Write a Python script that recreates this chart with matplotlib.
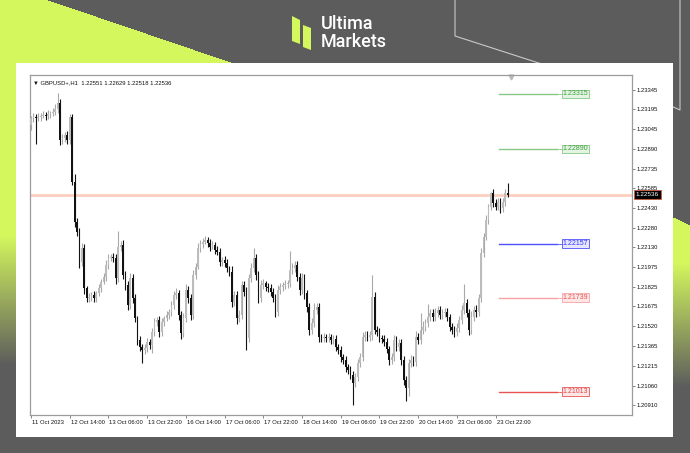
import numpy as np
import matplotlib
matplotlib.use('Agg')
import matplotlib.pyplot as plt
from matplotlib.patches import Rectangle, Polygon
import matplotlib.transforms as mtransforms

plt.rcParams['font.family'] = ['Liberation Sans', 'DejaVu Sans']

# GBPUSD+ H1 closes, first bar 11 Oct 22:00 (open of each bar = previous close)
first_open = 1.23075
closes = [
    1.23126, 1.23139, 1.23126, 1.23139, 1.23147, 1.23152, 1.23144, 1.23157, 1.23165, 1.23178,
    1.23198, 1.23242, 1.22959, 1.22972, 1.22997, 1.22959, 1.23139, 1.22637, 1.22327, 1.22250,
    1.22018, 1.22121, 1.21812, 1.21735, 1.21748, 1.21761, 1.21735, 1.21773, 1.21812, 1.21864,
    1.21902, 1.21992, 1.22044, 1.22057, 1.22044, 1.21889, 1.22134, 1.22147, 1.21915, 1.21838,
    1.21683, 1.21889, 1.21735, 1.21580, 1.21413, 1.21361, 1.21335, 1.21348, 1.21400, 1.21374,
    1.21477, 1.21554, 1.21567, 1.21477, 1.21554, 1.21580, 1.21606, 1.21632, 1.21683, 1.21761,
    1.21773, 1.21606, 1.21464, 1.21580, 1.21799, 1.21735, 1.21606, 1.21915, 1.21980, 1.22121,
    1.22152, 1.22173, 1.22186, 1.22160, 1.22134, 1.22147, 1.22108, 1.22096, 1.22018, 1.22031,
    1.22005, 1.21967, 1.21941, 1.21709, 1.21761, 1.21580, 1.21606, 1.21838, 1.21786, 1.21426,
    1.21889, 1.21967, 1.22044, 1.21915, 1.21735, 1.21838, 1.21851, 1.21825, 1.21812, 1.21786,
    1.21735, 1.21632, 1.21799, 1.21825, 1.21838, 1.21845, 1.21850, 1.21954, 1.21966, 1.21992,
    1.21902, 1.21799, 1.21889, 1.21773, 1.21670, 1.21490, 1.21541, 1.21645, 1.21670, 1.21438,
    1.21425, 1.21438, 1.21425, 1.21438, 1.21412, 1.21418, 1.21361, 1.21335, 1.21283, 1.21258,
    1.21206, 1.21180, 1.21142, 1.21077, 1.21129, 1.21232, 1.21283, 1.21438, 1.21451, 1.21438,
    1.21451, 1.21747, 1.21490, 1.21477, 1.21430, 1.21420, 1.21400, 1.21340, 1.21260, 1.21284,
    1.21413, 1.21361, 1.21390, 1.21258, 1.21103, 1.21039, 1.21232, 1.21258, 1.21245, 1.21439,
    1.21413, 1.21490, 1.21516, 1.21542, 1.21593, 1.21619, 1.21593, 1.21619, 1.21645, 1.21606,
    1.21619, 1.21632, 1.21593, 1.21516, 1.21490, 1.21477, 1.21503, 1.21567, 1.21645, 1.21696,
    1.21619, 1.21490, 1.21593, 1.21645, 1.21632, 1.21735, 1.22083, 1.22212, 1.22340, 1.22444,
    1.22547, 1.22469, 1.22444, 1.22482, 1.22431, 1.22482, 1.22551, 1.22536,
]

# wick lengths beyond the body, in pips
upper_wick_pips = [
    2, 3, 2, 3, 2, 3, 2, 3, 2, 3, 4, 8, 3, 3, 2, 3, 2, 2, 6, 3,
    3, 4, 3, 2, 3, 2, 3, 2, 3, 2, 3, 4, 3, 2, 3, 3, 12, 3, 4, 3,
    3, 4, 3, 3, 2, 3, 2, 3, 3, 2, 3, 3, 2, 3, 3, 2, 3, 2, 3, 3,
    4, 3, 3, 4, 5, 3, 3, 4, 3, 4, 3, 3, 3, 2, 3, 3, 2, 3, 3, 2,
    3, 3, 2, 4, 3, 3, 4, 3, 3, 4, 3, 4, 8, 3, 3, 4, 3, 2, 3, 3,
    3, 3, 4, 3, 2, 3, 3, 15, 4, 3, 3, 3, 4, 3, 3, 3, 4, 5, 3, 3,
    2, 3, 2, 3, 2, 3, 3, 2, 3, 2, 3, 2, 3, 3, 3, 3, 3, 4, 3, 3,
    3, 17, 4, 3, 3, 2, 3, 3, 3, 3, 4, 3, 3, 3, 3, 3, 3, 4, 3, 4,
    3, 13, 4, 3, 10, 3, 3, 4, 3, 3, 3, 3, 3, 2, 3, 3, 4, 3, 4, 15,
    3, 3, 4, 3, 4, 3, 4, 3, 4, 2, 1, 3, 3, 3, 3, 3, 3, 7.8,
]
lower_wick_pips = [
    4, 3, 20, 2, 3, 2, 3, 2, 3, 2, 3, 3, 4, 3, 3, 3, 3, 3, 4, 3,
    5, 3, 4, 3, 3, 3, 3, 3, 2, 3, 2, 3, 3, 2, 3, 4, 3, 3, 3, 4,
    4, 3, 4, 3, 4, 3, 10, 3, 3, 3, 6, 3, 3, 4, 3, 3, 2, 3, 3, 3,
    3, 4, 4, 3, 3, 4, 4, 3, 3, 2, 3, 3, 2, 3, 3, 2, 3, 3, 3, 3,
    3, 3, 3, 4, 3, 4, 3, 3, 3, 9, 3, 3, 3, 4, 4, 3, 3, 3, 3, 3,
    3, 4, 3, 3, 3, 3, 3, 3, 3, 3, 3, 4, 3, 4, 4, 4, 3, 3, 3, 4,
    3, 3, 3, 3, 3, 3, 3, 3, 4, 3, 4, 3, 3, 17, 3, 3, 3, 3, 3, 3,
    3, 4, 3, 3, 3, 3, 3, 3, 4, 3, 3, 3, 3, 4, 4, 10, 6, 3, 3, 3,
    3, 3, 3, 3, 3, 3, 3, 3, 3, 3, 3, 3, 3, 3, 3, 4, 3, 3, 3, 3,
    3, 4, 3, 3, 4, 3, 3, 3, 3, 3, 3, 3, 3, 3, 4, 3, 3, 1.8,
]

xtick_labels = ['11 Oct 2023', '12 Oct 14:00', '13 Oct 06:00', '13 Oct 22:00', '16 Oct 14:00',
                '17 Oct 06:00', '17 Oct 22:00', '18 Oct 14:00', '19 Oct 06:00', '19 Oct 22:00',
                '20 Oct 14:00', '23 Oct 06:00', '23 Oct 22:00']
xtick_bars = [0, 16, 32, 48, 64, 80, 96, 112, 128, 144, 160, 176, 192]
ytick_vals = [1.23345, 1.23195, 1.23045, 1.22890, 1.22735, 1.22585, 1.22430, 1.22280, 1.22130,
              1.21975, 1.21825, 1.21675, 1.21520, 1.21365, 1.21215, 1.21060, 1.20910]

levels = [1.23315, 1.22890, 1.22157, 1.21739, 1.21013]
level_line_colors = ['#86c986', '#86c986', '#4f4fff', '#f6a3a3', '#e85454']
level_text_colors = ['#3f9f3f', '#3f9f3f', '#3434ff', '#e25555', '#e04848']
level_face_colors = ['#e3f4e3', '#e3f4e3', '#e6e6ff', '#fde6e6', '#fde6e6']
current_price = 1.22536
header = '\u25bc GBPUSD+,H1  1.22551 1.22629 1.22518 1.22536'

W, H = 690, 453
fig = plt.figure(figsize=(W / 100, H / 100), dpi=100)

# ---- background (gray with lime corners) ----
bg = fig.add_axes([0, 0, 1, 1])
yy, xx = np.mgrid[0:H, 0:W]
gray = np.array([92, 92, 92]) / 255
lime = np.array([212, 247, 94]) / 255
img = np.ones((H, W, 3)) * gray
t_left = np.clip((yy - 235) / 130.0, 0, 1)[..., None]
left_col = lime * (1 - t_left) + gray * t_left
left_mask = (xx < 48 + 2.94 * yy) & (xx < 300)
img[left_mask] = left_col[left_mask]
t_right = np.clip((yy - 262) / 125.0, 0, 1)[..., None]
right_col = lime * (1 - t_right) + gray * t_right
right_mask = (yy > 217 + 0.47 * (xx - 673)) & (xx > 400)
img[right_mask] = right_col[right_mask]
bg.imshow(img, extent=[0, W, H, 0], aspect='auto', interpolation='bilinear', zorder=0)
bg.plot([455, 455, 548], [0, 36, 66], color='#c9c9c9', lw=0.8, zorder=1)
bg.plot([680, 680, 662], [0, 110, 102], color='#c9c9c9', lw=0.8, zorder=1)
bg.add_patch(Rectangle((16, 63), 657, 374, facecolor='white', edgecolor='none', zorder=3))
# logo
bg.add_patch(Polygon([(292, 16), (300, 20), (300, 44), (292, 41)], closed=True,
                     facecolor='#d4f75e', edgecolor='none', zorder=3))
bg.add_patch(Polygon([(303, 25), (311, 28), (311, 50), (303, 47)], closed=True,
                     facecolor='#d4f75e', edgecolor='none', zorder=3))
bg.text(321, 24, 'Ultima', color='white', fontsize=13, fontfamily='Roboto',
        fontweight='medium', va='center', ha='left', zorder=4)
bg.text(321, 42, 'Markets', color='white', fontsize=13, fontfamily='Roboto',
        fontweight='medium', va='center', ha='left', zorder=4)
bg.set_xlim(0, W)
bg.set_ylim(H, 0)
bg.axis('off')

# ---- chart ----
ax = fig.add_axes([30 / W, 1 - 415 / H, (632 - 30) / W, (415 - 75) / H])
ax.set_facecolor('white')

c = np.array(closes)
o = np.concatenate([[first_open], c[:-1]])
top = np.maximum(o, c)
bot = np.minimum(o, c)
hi = top + np.array(upper_wick_pips) * 1e-4
lo = bot - np.array(lower_wick_pips) * 1e-4
idx = np.arange(len(c))
bull = c >= o

ax.axhline(current_price, color='#fccfbf', lw=2.0, zorder=1)

for m, body_col, wick_col in [(bull, '#bcbcbc', '#a9a9a9'), (~bull, '#121212', '#121212')]:
    ax.vlines(idx[m], lo[m], hi[m], color=wick_col, lw=0.8, zorder=2)
    ax.bar(idx[m], np.maximum(top[m] - bot[m], 0.00004), bottom=bot[m], width=0.7,
           color=body_col, edgecolor='none', zorder=3)

# support / resistance levels
x0, x1 = (499 - 31) / 2.42, (557 - 31) / 2.42
for lv, lc, tc, fc in zip(levels, level_line_colors, level_text_colors, level_face_colors):
    ax.plot([x0, x1], [lv, lv], color=lc, lw=1.0, zorder=4)
    ax.plot([x1 + 0.6, x1 + 2.0], [lv, lv], color=lc, lw=0.6, zorder=4)
    ax.text(x1 + 2.4, lv, f'{lv:.5f}', color=tc, fontsize=5, va='center', ha='left', zorder=5,
            bbox=dict(boxstyle='square,pad=0.12', facecolor=fc, edgecolor=lc, lw=0.6))

ax.set_xlim(-0.41, (632 - 31) / 2.42)
ax.set_ylim(1.20833, 1.23461)

ax.yaxis.tick_right()
ax.set_yticks(ytick_vals)
ax.set_yticklabels([f'{v:.5f}' for v in ytick_vals])
ax.set_xticks(xtick_bars)
ax.set_xticklabels(xtick_labels, ha='left')
ax.tick_params(axis='both', labelsize=4.2, length=2.5, width=0.5, color='#555555',
               labelcolor='#111111', pad=1)
offset = mtransforms.ScaledTranslation(1 / 100, 0, fig.dpi_scale_trans)
for lab in ax.get_xticklabels():
    lab.set_transform(lab.get_transform() + offset)
for sp in ax.spines.values():
    sp.set_color('#9c9c9c')
    sp.set_linewidth(0.9)

# current price tag on the axis
trans = mtransforms.blended_transform_factory(ax.transAxes, ax.transData)
ax.text(1.006, current_price, f'{current_price:.5f}', transform=trans, color='white',
        fontsize=4.6, va='center', ha='left', clip_on=False, zorder=6,
        bbox=dict(boxstyle='square,pad=0.3', facecolor='black', edgecolor='#d9532b', lw=0.5))

ax.text(0.005, 0.985, header, transform=ax.transAxes, fontsize=4.2, va='top', ha='left',
        color='#111111')
ax.plot([(511 - 31) / 2.42], [0.993], marker='v', color='#b9b9b9', markersize=3.5,
        transform=mtransforms.blended_transform_factory(ax.transData, ax.transAxes),
        clip_on=False)

fig.savefig('out.png', dpi=100)
